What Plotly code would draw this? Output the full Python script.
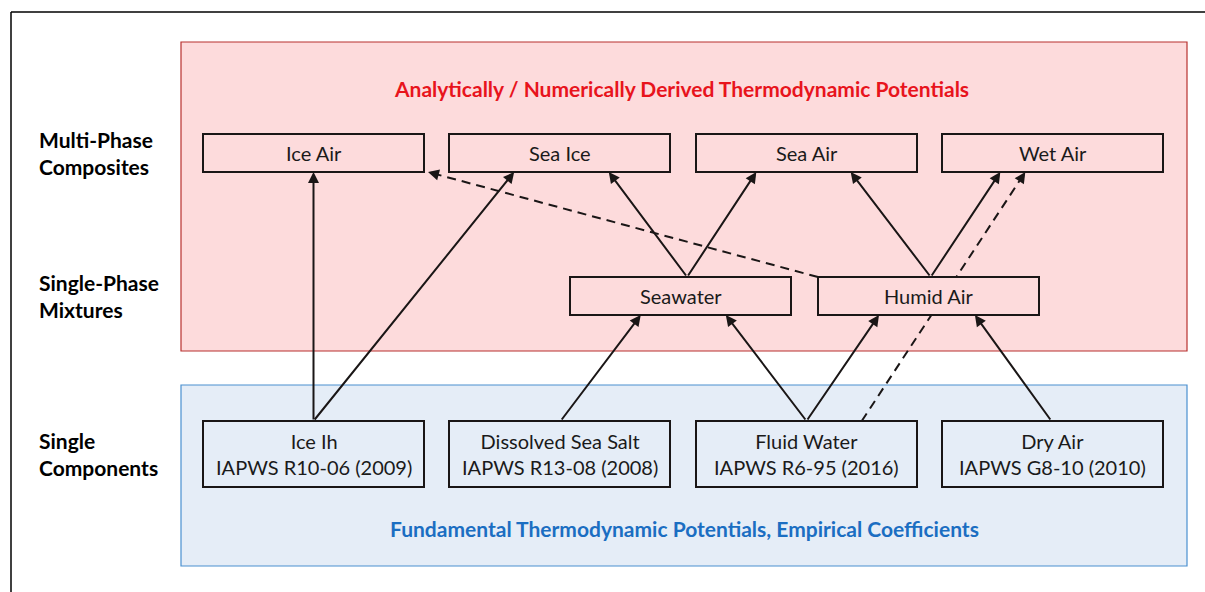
import plotly.graph_objects as go

# ---------------- data ----------------
level_labels = ["Multi-Phase<br>Composites", "Single-Phase<br>Mixtures", "Single<br>Components"]
composites = ["Ice Air", "Sea Ice", "Sea Air", "Wet Air"]
mixtures = ["Seawater", "Humid Air"]
components = ["Ice Ih", "Dissolved Sea Salt", "Fluid Water", "Dry Air"]
standards = ["IAPWS R10-06 (2009)", "IAPWS R13-08 (2008)", "IAPWS R6-95 (2016)", "IAPWS G8-10 (2010)"]
top_title = "Analytically / Numerically Derived Thermodynamic Potentials"
bottom_title = "Fundamental Thermodynamic Potentials, Empirical Coefficients"

# links: (source, target, dashed)
links = [
    ("Ice Ih", "Ice Air", False),
    ("Ice Ih", "Sea Ice", False),
    ("Dissolved Sea Salt", "Seawater", False),
    ("Fluid Water", "Seawater", False),
    ("Fluid Water", "Humid Air", False),
    ("Fluid Water", "Wet Air", True),
    ("Dry Air", "Humid Air", False),
    ("Seawater", "Sea Ice", False),
    ("Seawater", "Sea Air", False),
    ("Humid Air", "Sea Air", False),
    ("Humid Air", "Wet Air", False),
    ("Humid Air", "Ice Air", True),
]

# ---------------- layout geometry (pixels) ----------------
W, H = 1205, 592
RED_FILL, RED_LINE = "#FDDBDC", "#B8312F"
BLUE_FILL, BLUE_LINE = "#E5EDF7", "#4A90D0"
INK = "#1A1616"

box = {}
top_x = [203, 449, 696, 942]
for n, x0 in zip(composites, top_x):
    box[n] = (x0, x0 + 221, 134, 172, RED_FILL)
mid_x = [570, 818]
for n, x0 in zip(mixtures, mid_x):
    box[n] = (x0, x0 + 221, 277, 315, RED_FILL)
for n, x0 in zip(components, top_x):
    box[n] = (x0, x0 + 221, 421, 487, BLUE_FILL)

# port positions (fraction across box width) for each link end
out_frac = {
    ("Ice Ih", "Ice Air"): 0.5, ("Ice Ih", "Sea Ice"): 0.5,
    ("Dissolved Sea Salt", "Seawater"): 0.505,
    ("Fluid Water", "Seawater"): 0.5, ("Fluid Water", "Humid Air"): 0.5,
    ("Fluid Water", "Wet Air"): 0.75,
    ("Dry Air", "Humid Air"): 0.495,
    ("Seawater", "Sea Ice"): 0.53, ("Seawater", "Sea Air"): 0.53,
    ("Humid Air", "Sea Air"): 0.51, ("Humid Air", "Wet Air"): 0.51,
    ("Humid Air", "Ice Air"): 0.0,
}
in_frac = {
    ("Ice Ih", "Ice Air"): 0.5, ("Ice Ih", "Sea Ice"): 0.295,
    ("Dissolved Sea Salt", "Seawater"): 0.32,
    ("Fluid Water", "Seawater"): 0.705, ("Fluid Water", "Humid Air"): 0.276,
    ("Fluid Water", "Wet Air"): 0.377,
    ("Dry Air", "Humid Air"): 0.71,
    ("Seawater", "Sea Ice"): 0.723, ("Seawater", "Sea Air"): 0.273,
    ("Humid Air", "Sea Air"): 0.70, ("Humid Air", "Wet Air"): 0.264,
    ("Humid Air", "Ice Air"): 1.018,
}

shapes = []
annotations = []

# outer frame (top and left lines)
shapes.append(dict(type="line", x0=11, x1=W, y0=12, y1=12, line=dict(color="#000", width=1.5), layer="below"))
shapes.append(dict(type="line", x0=11, x1=11, y0=12, y1=H, line=dict(color="#000", width=1.5), layer="below"))

# background regions
shapes.append(dict(type="rect", x0=181, x1=1187, y0=42, y1=351, fillcolor=RED_FILL,
                   line=dict(color=RED_LINE, width=1.2), layer="below"))
shapes.append(dict(type="rect", x0=181, x1=1187, y0=385, y1=566, fillcolor=BLUE_FILL,
                   line=dict(color=BLUE_LINE, width=1.2), layer="below"))

# links
for src, dst, dashed in links:
    sx0, sx1, sy0, sy1, _ = box[src]
    dx0, dx1, dy0, dy1, _ = box[dst]
    xs = sx0 + out_frac[(src, dst)] * (sx1 - sx0)
    ys = sy0
    xt = dx0 + in_frac[(src, dst)] * (dx1 - dx0)
    yt = dy1
    if dashed:
        shapes.append(dict(type="line", x0=xs, y0=ys, x1=xt, y1=yt,
                           line=dict(color=INK, width=2, dash="9px,6px")))
        L = ((xt - xs) ** 2 + (yt - ys) ** 2) ** 0.5
        bx = xt - (xt - xs) / L * 12
        by = yt - (yt - ys) / L * 12
        annotations.append(dict(x=xt, y=yt, ax=bx, ay=by, xref="x", yref="y", axref="x", ayref="y",
                                text="", showarrow=True, arrowhead=2, arrowsize=1.1, arrowwidth=2,
                                arrowcolor=INK, standoff=0, startstandoff=0))
    else:
        annotations.append(dict(x=xt, y=yt, ax=xs, ay=ys, xref="x", yref="y", axref="x", ayref="y",
                                text="", showarrow=True, arrowhead=2, arrowsize=1.1, arrowwidth=2,
                                arrowcolor=INK, standoff=0, startstandoff=0))

# node boxes (drawn after lines so they hide crossing lines)
for n, (x0, x1, y0, y1, fc) in box.items():
    shapes.append(dict(type="rect", x0=x0, x1=x1, y0=y0, y1=y1, fillcolor=fc,
                       line=dict(color=INK, width=2)))

FONT = "Lato"
for n in composites + mixtures:
    x0, x1, y0, y1, _ = box[n]
    annotations.append(dict(x=(x0 + x1) / 2, y=(y0 + y1) / 2, text=n, showarrow=False,
                            xref="x", yref="y", font=dict(family=FONT, size=20, color="#1a1a1a")))
for n, s in zip(components, standards):
    x0, x1, y0, y1, _ = box[n]
    annotations.append(dict(x=(x0 + x1) / 2, y=(y0 + y1) / 2, text=n + "<br>" + s, showarrow=False,
                            xref="x", yref="y", font=dict(family=FONT, size=20, color="#1a1a1a")))

# level labels
for lab, yc in zip(level_labels, [153, 296, 454]):
    annotations.append(dict(x=37, y=yc, text="<b>" + lab + "</b>", showarrow=False, xanchor="left",
                            align="left", xref="x", yref="y",
                            font=dict(family=FONT, size=21, color="#000")))

# region titles
annotations.append(dict(x=681, y=88, text="<b>" + top_title + "</b>", showarrow=False, xref="x", yref="y",
                        font=dict(family=FONT, size=21, color="#E8141C")))
annotations.append(dict(x=684, y=528, text="<b>" + bottom_title + "</b>", showarrow=False, xref="x", yref="y",
                        font=dict(family=FONT, size=21, color="#1B6EC2")))

fig = go.Figure()
fig.update_layout(
    width=W, height=H, margin=dict(l=0, r=0, t=0, b=0),
    paper_bgcolor="white", plot_bgcolor="white",
    xaxis=dict(range=[0, W], visible=False, fixedrange=True),
    yaxis=dict(range=[H, 0], visible=False, fixedrange=True),
    shapes=shapes, annotations=annotations, showlegend=False,
)
fig.write_html("out.html", config={"displayModeBar": False},
               post_script="document.body.style.margin='0';document.body.style.overflow='hidden';")
